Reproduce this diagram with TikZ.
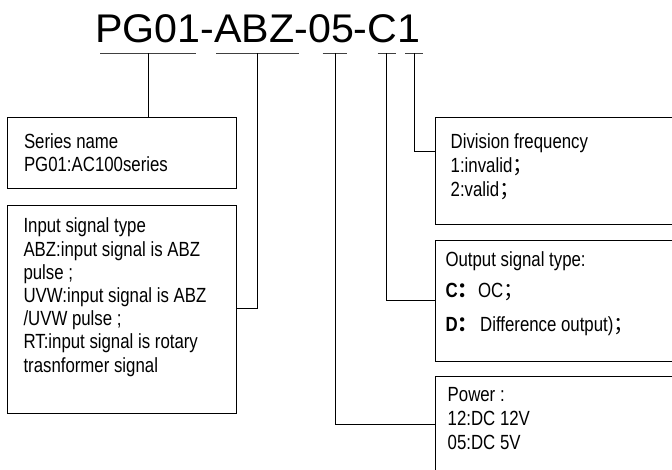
\documentclass[tikz,border=0pt]{standalone}
\usepackage{fontspec}
\setmainfont{Liberation Sans}
\newfontfamily\narrowfont[FakeStretch=0.82]{Liberation Sans}
\newfontfamily\titlefont[FakeStretch=1.03]{Liberation Sans}
\newfontfamily\cjkfont{Noto Sans CJK SC}
\newcommand{\fw}[1]{{\cjkfont #1}}
\begin{document}
\begin{tikzpicture}[x=1pt,y=-1pt,
  box/.style={draw, line width=0.9pt, anchor=north west, inner sep=0pt, outer sep=0pt},
  body/.style={anchor=north west, inner sep=0pt, outer sep=0pt, align=left,
    font=\narrowfont\fontsize{20.5}{23.2}\selectfont},
  conn/.style={line width=0.9pt},
  uline/.style={line width=0.9pt, draw=black!75}]
\path[use as bounding box] (0,0) rectangle (672,469);
\clip (0,0) rectangle (672,469);

% title
\node[anchor=base west, inner sep=0pt, font=\titlefont\fontsize{40}{44}\selectfont] (title) at (95,42) {PG01-ABZ-05-C1};

% underlines
\coordinate (u1) at (148.3,53);
\coordinate (u2) at (257.7,53);
\coordinate (u3) at (335.7,53);
\coordinate (u4) at (386.7,53);
\coordinate (u5) at (414,53);
\draw[uline] (100,53) -- (196,53);
\draw[uline] (216,53) -- (299,53);
\draw[uline] (322.7,53) -- (346.7,53);
\draw[uline] (377.7,53) -- (395.7,53);
\draw[uline] (405,53) -- (423,53);

% boxes
\node[box, minimum width=229.2pt, minimum height=71pt] (series) at (7.5,117) {};
\node[box, minimum width=229.2pt, minimum height=208pt] (input) at (7.5,205) {};
\node[box, minimum width=270pt, minimum height=106.7pt] (division) at (435.7,117.3) {};
\node[box, minimum width=270pt, minimum height=121pt] (output) at (435.7,240) {};
\node[box, minimum width=270pt, minimum height=130pt] (power) at (435.7,376) {};

% texts
\node[body] (seriestxt) at (24,133.5) {Series name\\PG01:AC100series};
\node[body] (inputtxt) at (23.5,218) {Input signal type\\ABZ:input signal is ABZ\\pulse ;\\UVW:input signal is ABZ\\/UVW pulse ;\\RT:input signal is rotary\\trasnformer signal};
\node[body, font=\narrowfont\fontsize{20.5}{24}\selectfont] (divisiontxt) at (450.7,133.6) {Division frequency\\1:invalid\fw{；}\\2:valid\fw{；}};
\node[body] (outputtxt) at (445.5,251.7) {Output signal type:\\[8pt]\textbf{C}\fw{\bfseries ：}OC\fw{；}\\[11pt]\textbf{D}\fw{\bfseries ：}\hspace{2pt}Difference output)\fw{；}};
\node[body, font=\narrowfont\fontsize{20.5}{24}\selectfont] (powertxt) at (447.7,387) {Power :\\12:DC 12V\\05:DC 5V};

% connectors
\draw[conn] (u1) -- (u1 |- series.north);
\draw[conn] (u2) |- (input.east |- 0,308);
\draw[conn] (u3) |- (power.west |- 0,424.3);
\draw[conn] (u4) |- (output.west |- 0,300.7);
\draw[conn] (u5) |- (division.west |- 0,151.7);
\end{tikzpicture}
\end{document}
